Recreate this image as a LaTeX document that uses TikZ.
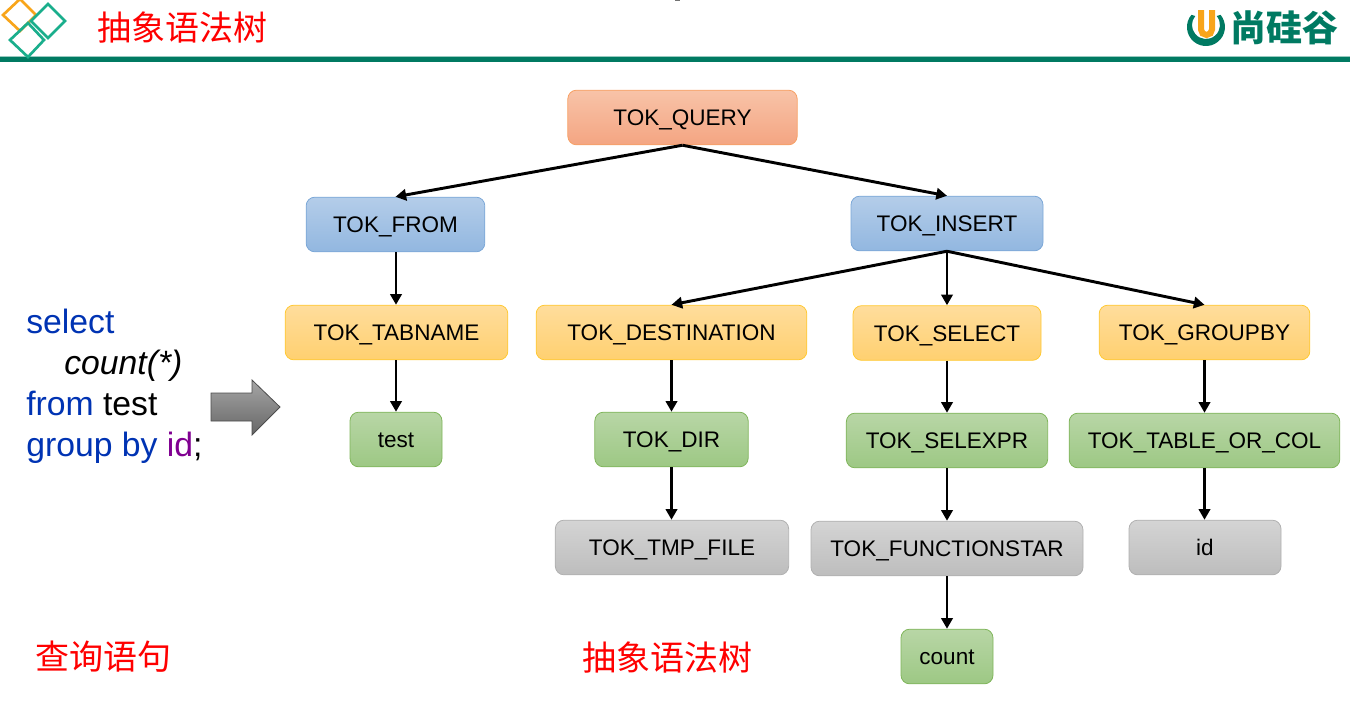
\documentclass[tikz,border=0pt]{standalone}
\usepackage{fontspec}
\setmainfont{Liberation Sans}
\newfontfamily\cjk{Noto Sans CJK SC}
\usepackage{xcolor}
\usetikzlibrary{arrows.meta}
\definecolor{bandaVerde}{RGB}{0,122,98}
\definecolor{bluSql}{RGB}{0,51,179}
\definecolor{violaSql}{RGB}{128,0,145}
\definecolor{romboArancio}{RGB}{248,165,27}
\definecolor{romboVerde}{RGB}{26,174,140}
\tikzset{
    tok/.style = {draw, rounded corners = 6.5, line width = 0.6pt, inner sep = 0pt, text = black, text height = 14pt, text depth = 1.6pt, font = \fontsize{16.9}{20}\selectfont},
    tokquery/.style = {tok, draw = {rgb,255:red,247;green,160;blue,100}, top color = {rgb,255:red,248;green,195;blue,168}, bottom color = {rgb,255:red,244;green,165;blue,130}},
    tokblue/.style = {tok, draw = {rgb,255:red,123;green,167;blue,215}, top color = {rgb,255:red,180;green,205;blue,233}, bottom color = {rgb,255:red,146;green,183;blue,224}},
    tokyellow/.style = {tok, draw = {rgb,255:red,255;green,201;blue,51}, top color = {rgb,255:red,255;green,221;blue,156}, bottom color = {rgb,255:red,255;green,208;blue,112}},
    tokgreen/.style = {tok, draw = {rgb,255:red,127;green,181;blue,90}, top color = {rgb,255:red,184;green,214;blue,166}, bottom color = {rgb,255:red,157;green,200;blue,132}},
    tokgray/.style = {tok, draw = {rgb,255:red,176;green,176;blue,176}, top color = {rgb,255:red,212;green,212;blue,212}, bottom color = {rgb,255:red,189;green,189;blue,189}},
    freccia/.style = {-{Triangle[length = 8pt, width = 8.5pt]}, line width = 2.2pt},
    sql/.style = {anchor = base west, inner sep = 0pt, font = \fontsize{25.3}{30}\selectfont},
    titolo/.style = {inner sep = 0pt, text = red, font = \fontsize{25.5}{30}\selectfont\cjk},
    rombo/.style = {line width = 2pt, line join = miter}
}
\begin{document}
\begin{tikzpicture}[x = 0.75pt, y = -0.75pt]
    \useasboundingbox (0,0) rectangle (1350,701);
    % Testata
    \fill[black!55] (675,0) rectangle (680,1);
    \fill[bandaVerde!40] (0,55.5) rectangle (1350,57);
    \fill[bandaVerde] (0,57) rectangle (1350,62);
    \draw[rombo, romboArancio] (20,-1) -- (36,15) -- (20,31) -- (3,15) -- cycle;
    \draw[rombo, romboVerde] (48,4) -- (65,21) -- (48,38) -- (31,21) -- cycle;
    \draw[rombo, romboVerde] (28,23) -- (44,40) -- (28,57) -- (10,40) -- cycle;
    \node[titolo] (titolo) at (182,28) {抽象语法树};
    % Logo
    \fill[bandaVerde] (1191.4,14.8) arc[start angle = 220, end angle = -40, radius = 19] -- (1216.7,16) arc[start angle = -40, end angle = 220, radius = 14] -- cycle;
    \draw[romboArancio, line width = 4.5pt] (1201,10) -- (1201,29.5) arc[start angle = 180, end angle = 0, radius = 5.5] -- (1212,10);
    \node[inner sep = 0pt, text = bandaVerde, font = \fontsize{27}{30}\selectfont\cjk\bfseries] (logo) at (1284,28) {尚硅谷};
    % Query
    \node[sql, text = bluSql] (riga1) at (26,333) {select};
    \node[sql] (riga2) at (64,374) {\textit{count(*)}};
    \node[sql] (riga3) at (26,415) {\textcolor{bluSql}{from} test};
    \node[sql] (riga4) at (26,456) {\textcolor{bluSql}{group by} \textcolor{violaSql}{id};};
    \shade[draw = black!70, line width = 0.6pt, top color = black!35, bottom color = black!60] (211,393) -- (252,393) -- (252,380) -- (280,407) -- (252,435) -- (252,421) -- (211,421) -- cycle;
    % Albero
    \node[tokquery, minimum width = 172, minimum height = 41] (query) at (682.5,117.5) {TOK\_QUERY};
    \node[tokblue, minimum width = 134, minimum height = 41] (from) at (395.5,224.5) {TOK\_FROM};
    \node[tokblue, minimum width = 144, minimum height = 41] (insert) at (947,223.5) {TOK\_INSERT};
    \node[tokyellow, minimum width = 167, minimum height = 41] (tabname) at (396.5,332.5) {TOK\_TABNAME};
    \node[tokyellow, minimum width = 203, minimum height = 41] (destination) at (671.5,332.5) {TOK\_DESTINATION};
    \node[tokyellow, minimum width = 141, minimum height = 41] (select) at (947,333) {TOK\_SELECT};
    \node[tokyellow, minimum width = 158, minimum height = 41] (groupby) at (1204.5,332.5) {TOK\_GROUPBY};
    \node[tokgreen, minimum width = 69, minimum height = 41] (test) at (396,439.5) {test};
    \node[tokgreen, minimum width = 115, minimum height = 41] (dir) at (671.5,439.5) {TOK\_DIR};
    \node[tokgreen, minimum width = 151, minimum height = 41] (selexpr) at (947,440.5) {TOK\_SELEXPR};
    \node[tokgreen, minimum width = 203, minimum height = 41] (tablecol) at (1204.5,440.5) {TOK\_TABLE\_OR\_COL};
    \node[tokgray, minimum width = 175, minimum height = 41] (tmpfile) at (672,547.5) {TOK\_TMP\_FILE};
    \node[tokgray, minimum width = 204, minimum height = 41] (funcstar) at (947,548.5) {TOK\_FUNCTIONSTAR};
    \node[tokgray, minimum width = 114, minimum height = 41] (id) at (1205,547.5) {id};
    \node[tokgreen, minimum width = 69, minimum height = 41] (count) at (947,656.5) {count};
    % Archi
    \draw[freccia] (query.south) -- (from.north);
    \draw[freccia] (query.south) -- (insert.north);
    \draw[freccia] (from.south -| test.north) -- (tabname.north -| test.north);
    \draw[freccia] (tabname.south -| test.north) -- (test.north);
    \draw[freccia] (insert.south) -- (destination.north);
    \draw[freccia] (insert.south) -- (select.north);
    \draw[freccia] (insert.south) -- (groupby.north);
    \draw[freccia] (destination.south) -- (dir.north);
    \draw[freccia] (dir.south) -- (tmpfile.north -| dir.south);
    \draw[freccia] (select.south) -- (selexpr.north);
    \draw[freccia] (selexpr.south) -- (funcstar.north);
    \draw[freccia] (funcstar.south) -- (count.north);
    \draw[freccia] (groupby.south) -- (tablecol.north);
    \draw[freccia] (tablecol.south) -- (id.north -| tablecol.south);
    % Didascalie
    \node[titolo] (didaQuery) at (103.5,657) {查询语句};
    \node[titolo] (didaAlbero) at (667,657) {抽象语法树};
\end{tikzpicture}
\end{document}
